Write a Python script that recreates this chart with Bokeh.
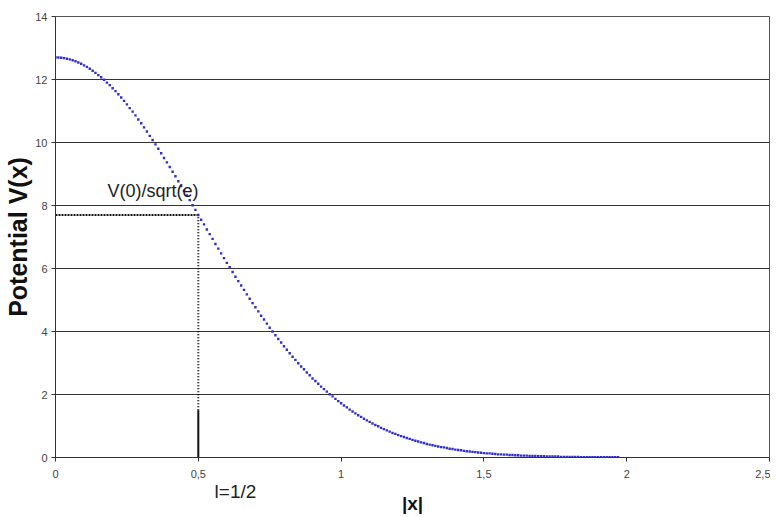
from bokeh.plotting import figure
from bokeh.models import Range1d, FixedTicker, Label, LinearAxis
from bokeh.embed import file_html
from bokeh.resources import INLINE

V = [12.70, 12.70, 12.69, 12.68, 12.66, 12.64, 12.61, 12.58, 12.54, 12.50,
     12.45, 12.40, 12.34, 12.28, 12.21, 12.14, 12.07, 11.99, 11.90, 11.82,
     11.72, 11.63, 11.53, 11.43, 11.32, 11.21, 11.09, 10.98, 10.86, 10.73,
     10.61, 10.48, 10.35, 10.21, 10.08, 9.94, 9.80, 9.66, 9.51, 9.37,
     9.22, 9.07, 8.93, 8.77, 8.62, 8.47, 8.32, 8.17, 8.01, 7.86,
     7.70, 7.55, 7.40, 7.24, 7.09, 6.94, 6.78, 6.63, 6.48, 6.33,
     6.18, 6.04, 5.89, 5.74, 5.60, 5.46, 5.32, 5.18, 5.04, 4.90,
     4.77, 4.64, 4.50, 4.38, 4.25, 4.12, 4.00, 3.88, 3.76, 3.65,
     3.53, 3.42, 3.31, 3.20, 3.10, 2.99, 2.89, 2.80, 2.70, 2.61,
     2.51, 2.43, 2.34, 2.25, 2.17, 2.09, 2.01, 1.94, 1.86, 1.79,
     1.72, 1.65, 1.59, 1.52, 1.46, 1.40, 1.34, 1.29, 1.23, 1.18,
     1.13, 1.08, 1.03, 0.99, 0.94, 0.90, 0.86, 0.82, 0.78, 0.75,
     0.71, 0.68, 0.65, 0.62, 0.59, 0.56, 0.53, 0.51, 0.48, 0.46,
     0.43, 0.41, 0.39, 0.37, 0.35, 0.33, 0.32, 0.30, 0.28, 0.27,
     0.25, 0.24, 0.23, 0.21, 0.20, 0.19, 0.18, 0.17, 0.16, 0.15,
     0.14, 0.13, 0.13, 0.12, 0.11, 0.10, 0.10, 0.09, 0.09, 0.08,
     0.08, 0.07, 0.07, 0.06, 0.06, 0.06, 0.05, 0.05, 0.05, 0.04,
     0.04, 0.04, 0.03, 0.03, 0.03, 0.03, 0.03, 0.02, 0.02, 0.02,
     0.02, 0.02, 0.02, 0.02, 0.01, 0.01, 0.01, 0.01, 0.01, 0.01,
     0.01, 0.01, 0.01, 0.01, 0.01, 0.01, 0.01, 0.01]
X_STEP = 0.01
X = [round(i * X_STEP, 2) for i in range(len(V))]

V_THRESHOLD = 7.70      # V(0)/sqrt(e)
L_HALF = 0.5            # l = 1/2
SOLID_TOP = 1.5         # vertical marker turns solid below this value

X_TICKS = [0, 0.5, 1, 1.5, 2, 2.5]
X_TICK_LABELS = {0.5: "0,5", 1.5: "1,5", 2.5: "2,5"}
Y_TICKS = [0, 2, 4, 6, 8, 10, 12, 14]
L_TEXT_AT = 0.63        # where the "l=1/2" note sits under the axis
L_TEXT = "l=1/2"

FONT = "Liberation Sans"

p = figure(width=770, height=516, output_backend="svg", toolbar_location=None,
           x_range=Range1d(0, 2.5), y_range=Range1d(0, 14),
           min_border_left=55, min_border_right=1, min_border_top=16,
           min_border_bottom=58)
p.background_fill_color = "white"
p.border_fill_color = "white"
p.outline_line_color = "#555555"
p.outline_line_width = 1

p.xgrid.grid_line_color = None
p.ygrid.ticker = FixedTicker(ticks=Y_TICKS)
p.ygrid.grid_line_color = "#333333"
p.ygrid.grid_line_width = 1

p.xaxis.ticker = FixedTicker(ticks=X_TICKS)
p.xaxis.major_label_overrides = X_TICK_LABELS
p.yaxis.ticker = FixedTicker(ticks=Y_TICKS)

for ax in (p.xaxis[0], p.yaxis[0]):
    ax.axis_line_color = "#333333"
    ax.major_tick_line_color = "#333333"
    ax.minor_tick_line_color = None
    ax.major_tick_in = 0
    ax.major_tick_out = 4
    ax.major_label_text_font = FONT
    ax.major_label_text_font_size = "11px"
    ax.major_label_text_color = "#444444"
    ax.axis_label_text_font = FONT
    ax.axis_label_text_font_style = "bold"
    ax.axis_label_text_color = "#111111"

p.xaxis.major_label_standoff = 8
p.yaxis.axis_label = "Potential V(x)"
p.yaxis.axis_label_text_font_size = "25px"
p.yaxis.major_label_standoff = 4
p.yaxis.axis_label_standoff = 0

# second, line-less axis under the first one: carries "l=1/2" and the "|x|" title
note_axis = LinearAxis(ticker=FixedTicker(ticks=[L_TEXT_AT]),
                       major_label_overrides={L_TEXT_AT: L_TEXT})
note_axis.axis_line_color = None
note_axis.major_tick_line_color = None
note_axis.minor_tick_line_color = None
note_axis.major_tick_in = 0
note_axis.major_tick_out = 0
note_axis.major_label_standoff = 0
note_axis.major_label_text_font = FONT
note_axis.major_label_text_font_size = "19px"
note_axis.major_label_text_color = "#222222"
note_axis.axis_label = "|x|"
note_axis.axis_label_text_font = FONT
note_axis.axis_label_text_font_size = "19px"
note_axis.axis_label_text_font_style = "bold"
note_axis.axis_label_text_color = "#111111"
note_axis.axis_label_standoff = -12
p.add_layout(note_axis, "below")

# threshold markers
p.line([0, L_HALF], [V_THRESHOLD, V_THRESHOLD], line_color="#111111",
       line_width=2, line_dash="2 1")
p.line([L_HALF, L_HALF], [SOLID_TOP, V_THRESHOLD], line_color="#000000",
       line_width=2, line_dash="1 2")
p.line([L_HALF, L_HALF], [0, SOLID_TOP], line_color="#111111", line_width=2)

# potential curve
p.scatter(X, V, marker="square", size=2.4, fill_color="#2f2fd0",
          line_color=None)

p.add_layout(Label(x=0.182, y=8.46, text="V(0)/sqrt(e)", text_font=FONT,
                   text_font_size="18px", text_color="#222222",
                   text_baseline="middle"))

open("out.html", "w").write(file_html(p, INLINE))
